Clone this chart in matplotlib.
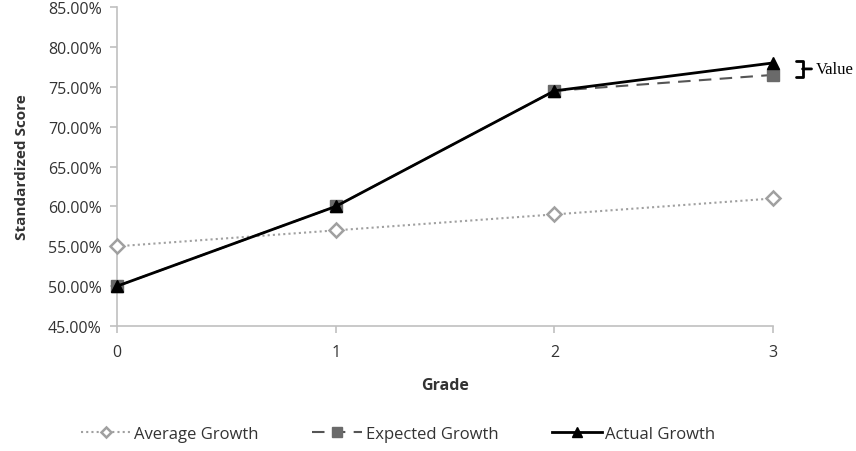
import matplotlib
matplotlib.use("Agg")
import matplotlib.pyplot as plt
from matplotlib.ticker import FuncFormatter

plt.rcParams['font.family'] = ['Open Sans', 'DejaVu Sans']

# data
grades = [0, 1, 2, 3]
average_growth = [55.0, 57.0, 59.0, 61.0]
expected_growth = [50.0, 60.0, 74.5, 76.5]
actual_growth = [50.0, 60.0, 74.5, 78.0]
y_ticks = [45, 50, 55, 60, 65, 70, 75, 80, 85]

fig = plt.figure(figsize=(8.56, 4.52), dpi=100)
ax = fig.add_axes([0.1367, 0.2765, 0.7664, 0.7055])

ax.plot(grades, average_growth, color='#a0a0a0', linestyle=(0, (1, 1.5)), linewidth=1.5,
        marker='D', markersize=7, markerfacecolor='white', markeredgecolor='#a0a0a0',
        markeredgewidth=1.8, label='Average Growth', clip_on=False, zorder=3)
ax.plot(grades, expected_growth, color='#555555', linestyle=(0, (6, 4)), linewidth=1.5,
        marker='s', markersize=9, markerfacecolor='#6a6a6a', markeredgecolor='#6a6a6a',
        label='Expected Growth', clip_on=False, zorder=4)
ax.plot(grades, actual_growth, color='black', linewidth=2,
        marker='^', markersize=9, markerfacecolor='black', markeredgecolor='black',
        label='Actual Growth', clip_on=False, zorder=5)

# bracket marking the gap at grade 3
gap_mid = (actual_growth[3] + expected_growth[3]) / 2
ax.annotate('Value', xy=(3.135, gap_mid), xytext=(3.195, gap_mid),
            va='center', ha='left', fontsize=12,
            family=['Liberation Serif'], annotation_clip=False,
            arrowprops=dict(arrowstyle='-[, widthB=0.5, lengthB=0.4', color='black', lw=2,
                            shrinkA=1, shrinkB=0))

ax.set_xlim(0, 3)
ax.set_ylim(45, 85)
ax.set_xticks(grades)
ax.set_yticks(y_ticks)
ax.yaxis.set_major_formatter(FuncFormatter(lambda v, p: '%.2f%%' % v))

for s in ['top', 'right']:
    ax.spines[s].set_visible(False)
for s in ['left', 'bottom']:
    ax.spines[s].set_color('#c0c0c0')
    ax.spines[s].set_linewidth(1.2)
ax.tick_params(axis='both', colors='#c0c0c0', labelcolor='#333333', labelsize=11.5,
               length=5, width=1.2, direction='out')
ax.tick_params(axis='x', pad=8)
ax.tick_params(axis='y', pad=6)

ax.set_xlabel('Grade', fontsize=11.5, fontweight='bold', color='#333333', labelpad=12)
ax.set_ylabel('Standardized Score', fontsize=11, fontweight='bold', color='#333333', labelpad=14)

fig.legend(loc='center', bbox_to_anchor=(0.465, 0.037), ncol=3, frameon=False,
           fontsize=12, handlelength=3, columnspacing=3.2, handletextpad=0.2,
           labelcolor='#333333', markerscale=0.8)

fig.savefig('out.png', dpi=100)
